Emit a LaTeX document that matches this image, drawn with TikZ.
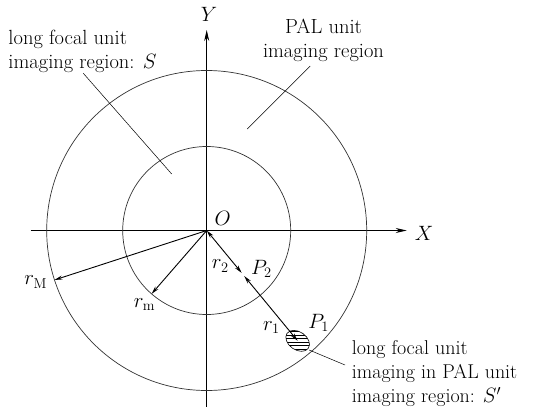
\documentclass[tikz,border=0pt]{standalone}
\usepackage{amsmath}
\usetikzlibrary{arrows.meta,calc}

\begin{document}
\begin{tikzpicture}[x=1pt,y=1pt,>={Stealth[length=8pt,width=4pt]},
    every node/.style={font=\fontsize{20}{24}\selectfont, inner sep=0pt},
    big/.style={font=\fontsize{20.5}{24}\selectfont},
    axis/.style={line width=0.8pt,-{Stealth[length=11pt,width=5pt]}},
    ring/.style={line width=0.7pt,black!80},
    radial/.style={line width=0.9pt},
    leader/.style={line width=0.5pt}]
  \useasboundingbox (-206.7,-181.5) rectangle (327.3,230.5);

  % axes
  \coordinate (O) at (0,0);
  \coordinate (Xl) at (-176,0);
  \coordinate (Xr) at (200,0);
  \coordinate (Yb) at (0,-176);
  \coordinate (Yt) at (0,200.5);
  \draw[axis] (Xl) -- (Xr);
  \draw[axis] (Yb) -- (Yt);
  \node[anchor=west] (Xlab) at (208,-2.5) {$X$};
  \node[anchor=base] (Ylab) at (2.3,208.8) {$Y$};
  \node[anchor=south west] (Olab) at (7.8,4.8) {$O$};

  % imaging regions
  \draw[ring] (O) circle[radius=160pt];
  \draw[ring] (O) circle[radius=84pt];

  % radii
  \coordinate (RM) at (198:160pt);
  \coordinate (Rm) at (229:84pt);
  \coordinate (P2) at (-50.5:57pt);
  \coordinate (P1) at (-50.5:143pt);
  \draw[radial,->] (O) -- (RM);
  \draw[radial,->] (O) -- (Rm);
  \draw[radial,<->,shorten >=2pt] (O) -- (P2);
  \draw[radial,<->,shorten <=2pt] (P2) -- (P1);
  \node (rMlab) at (-171,-51.5) {$r_{\mathrm{M}}$};
  \node (rmlab) at (-62.2,-73.8) {$r_{\mathrm{m}}$};
  \node (r2lab) at (13.6,-35.5) {$r_2$};
  \node (P2lab) at (54.7,-38) {$P_2$};
  \node (r1lab) at (64.7,-97) {$r_1$};
  \node (P1lab) at (112,-92.5) {$P_1$};

  % long focal spot S'
  \begin{scope}
    \clip[rotate around={-35:(P1)}] (P1) ellipse[x radius=13pt, y radius=9pt];
    \foreach \d in {-12,-8.4,...,12}
      \draw[line width=0.4pt] ($(P1)+(-16,\d)$) -- ++(32,0);
  \end{scope}
  \draw[line width=0.6pt,rotate around={-35:(P1)}] (P1) ellipse[x radius=13pt, y radius=9pt];

  % labels with leaders (base = last line)
  \node[big,anchor=base west,align=left] (Slab) at (-198.4,161.5)
    {long focal unit\\imaging region: $S$};
  \node[big,anchor=base,align=center] (PALlab) at (116.8,173.2)
    {PAL unit\\imaging region};
  \node[anchor=base west,align=left] (Sprlab) at (145,-172.2)
    {long focal unit\\imaging in PAL unit\\imaging region: $S'$};
  \coordinate (Sa) at (-123.4,157.2);
  \coordinate (Sb) at (-35,56.5);
  \coordinate (PALa) at (103.5,164.5);
  \coordinate (PALb) at (40.5,101.5);
  \coordinate (Spra) at (102.5,-119.5);
  \coordinate (Sprb) at (138.3,-134.5);
  \draw[leader] (Sa) -- (Sb);
  \draw[leader] (PALa) -- (PALb);
  \draw[leader] (Spra) -- (Sprb);
\end{tikzpicture}
\end{document}
